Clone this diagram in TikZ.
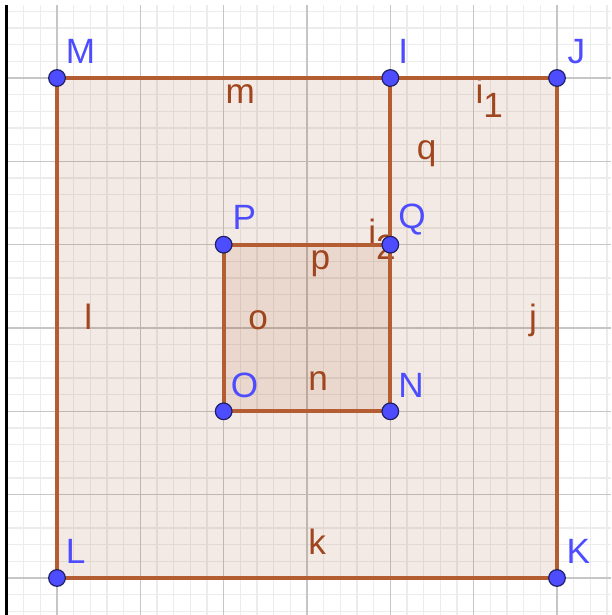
\documentclass[tikz,border=0pt]{standalone}
\usepackage{fontspec}
\setmainfont{Liberation Sans}

\definecolor{ggbrown}{RGB}{153,51,0}
\definecolor{ggline}{RGB}{180,92,50}
\definecolor{ggtext}{RGB}{160,70,30}
\definecolor{ggblue}{RGB}{77,77,255}
\definecolor{ggdark}{RGB}{30,30,100}
\definecolor{ggminor}{RGB}{236,236,236}
\definecolor{ggmajor}{RGB}{198,198,198}

\tikzset{
  pt/.style={circle, fill=ggblue, draw=ggdark, line width=0.4pt, inner sep=0pt, minimum size=0.2cm},
  ptlabel/.style={anchor=base west, inner sep=0pt, text=ggblue, font=\fontsize{12}{14}\selectfont},
  seglabel/.style={anchor=base west, inner sep=0pt, text=ggtext, font=\fontsize{12}{14}\selectfont},
  seg/.style={draw=ggline, line width=1.3pt, line join=round},
  area/.style={fill=ggbrown, fill opacity=0.1},
}

\begin{document}
\begin{tikzpicture}
\def \xl {-0.684}
\def \xr {6.648}
\def \yb {-0.444}
\def \yt {6.936}
\def \ax {-0.606}

\useasboundingbox (\xl, \yb) rectangle (\xr, \yt);
\fill[white] (\xl, \yb) rectangle (\xr, \yt);

% grid
\draw[ggminor, line width=0.35pt, step=0.2] (\ax, \yb) grid (\xr, 6.876);
\draw[ggmajor, line width=0.45pt, step=1] (\ax, \yb) grid (\xr, 6.876);
\draw[black, line width=0.7pt] (\ax, \yb) -- (\ax, 6.876);

% vertices
\coordinate (L) at (0, 0);
\coordinate (K) at (6, 0);
\coordinate (J) at (6, 6);
\coordinate (I) at (4, 6);
\coordinate (M) at (0, 6);
\coordinate (P) at (2, 4);
\coordinate (Q) at (4, 4);
\coordinate (N) at (4, 2);
\coordinate (O) at (2, 2);

% fill shapes
\path[area] (L) -- (K) -- (J) -- (M) -- cycle;
\path[area] (O) -- (N) -- (Q) -- (P) -- cycle;

% segment labels
\node[seglabel] (lm) at (2.016, 5.70) {m};
\node[seglabel] (li1) at (5.016, 5.70) {i\raisebox{-5pt}{1}};
\node[seglabel] (lq) at (4.31, 5.016) {q};
\node[seglabel] (li2) at (3.73, 4.0) {i\raisebox{-5pt}{2}};
\node[seglabel] (lp) at (3.036, 3.70) {p};
\node[seglabel] (lo) at (2.29, 2.98) {o};
\node[seglabel] (ln) at (3.01, 2.256) {n};
\node[seglabel] (ll) at (0.32, 2.98) {l};
\node[seglabel] (lj) at (5.66, 2.98) {j};
\node[seglabel] (lk) at (3.01, 0.276) {k};

% segments
\draw[seg] (L) -- (K) -- (J) -- (I) -- (M) -- cycle;
\draw[seg] (I) -- (Q);
\draw[seg] (O) -- (N) -- (Q) -- (P) -- cycle;

% points
\foreach \p in {L, K, J, I, M, P, Q, N, O}
  \node[pt] (p\p) at (\p) {};

% point labels
\node[ptlabel] (tM) at (0.10, 6.17) {M};
\node[ptlabel] (tI) at (4.09, 6.17) {I};
\node[ptlabel] (tJ) at (6.12, 6.18) {J};
\node[ptlabel] (tP) at (2.10, 4.18) {P};
\node[ptlabel] (tQ) at (4.09, 4.20) {Q};
\node[ptlabel] (tO) at (2.08, 2.17) {O};
\node[ptlabel] (tN) at (4.09, 2.17) {N};
\node[ptlabel] (tL) at (0.10, 0.18) {L};
\node[ptlabel] (tK) at (6.11, 0.18) {K};
\end{tikzpicture}
\end{document}
